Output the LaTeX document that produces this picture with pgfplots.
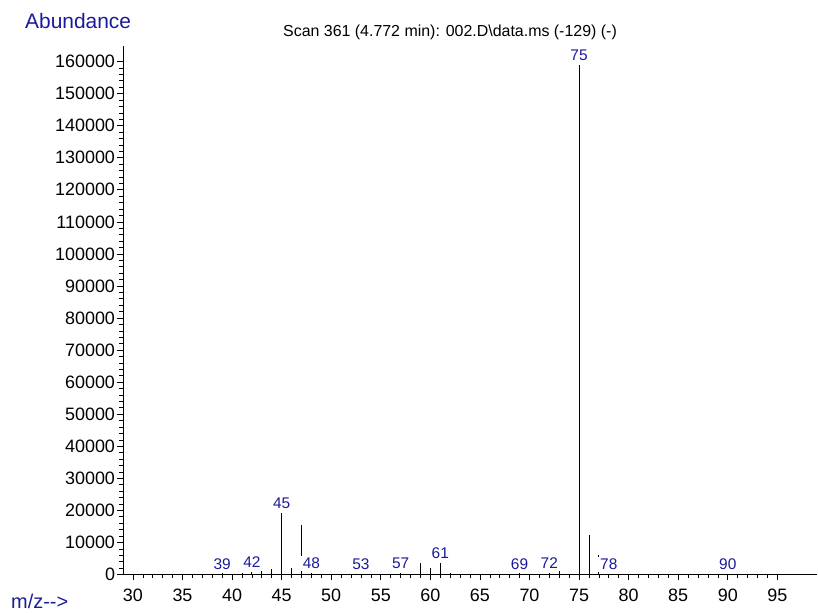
\documentclass[border=0pt]{standalone}
\usepackage{fontspec}
\setmainfont{Liberation Sans}
\usepackage{pgfplots}
\pgfplotsset{compat=1.18}
\definecolor{labblue}{RGB}{26,26,155}
\tikzset{lab/.style={anchor=base, yshift=4bp, fill=white, inner xsep=3bp, inner ysep=2bp,
    font=\fontsize{15.5}{17}\selectfont, text=labblue}}

\begin{document}
\begin{tikzpicture}
\path[use as bounding box] (-123bp,-38.5bp) rectangle (695bp,574.5bp);
\begin{axis}[
  at={(0,0)}, anchor=south west,
  scale only axis, width=694bp, height=528bp,
  xmin=29, xmax=99, ymin=0, ymax=164700,
  axis lines=left, axis line style={-, black, line width=0.7bp},
  xtick={30,35,...,95}, ytick={0,10000,...,160000},
  minor x tick num=4, minor y tick num=4,
  tick align=outside, tick style={black, line width=0.6bp},
  major tick length=6bp, minor tick length=3.5bp,
  ticklabel style={font=\fontsize{18}{20}\selectfont},
  xticklabel style={yshift=-5bp},
  yticklabel style={xshift=1.5bp},
  /pgf/number format/assume math mode=true,
  /pgf/number format/fixed,
  /pgf/number format/precision=0,
  /pgf/number format/1000 sep={},
  scaled y ticks=false,
  clip=false,
]
% peak list: m/z, abundance
\addplot[ycomb, black, line width=0.8bp, mark=none] coordinates {
  (39,400) (41,600) (42,900) (43,1100) (44,1600) (45,19200) (46,2000)
  (47,15400) (48,600) (53,300) (57,500) (58,300) (59,3500) (60,1900)
  (61,3600) (62,500) (69,400) (72,500) (73,1400) (74,300) (75,159000)
  (76,12300) (77,6100) (78,300) (90,200)
};
\node[lab] at (axis cs:39,400) {39};
\node[lab] at (axis cs:42,900) {42};
\node[lab] at (axis cs:45,19200) {45};
\node[lab] at (axis cs:48,600) {48};
\node[lab] at (axis cs:53,300) {53};
\node[lab] at (axis cs:57,500) {57};
\node[lab] at (axis cs:61,3600) {61};
\node[lab] at (axis cs:69,400) {69};
\node[lab] at (axis cs:72,500) {72};
\node[lab] at (axis cs:75,159000) {75};
\node[lab] at (axis cs:78,300) {78};
\node[lab] at (axis cs:90,200) {90};
\end{axis}
\node[anchor=base, inner sep=0, font=\fontsize{16}{18}\selectfont] at (327bp,537.5bp)
  {Scan 361 (4.772 min): 002.D\textbackslash data.ms (-129) (-)};
\node[anchor=base west, inner sep=0, font=\fontsize{21}{24}\selectfont, text=labblue]
  at (-98bp,546.2bp) {Abundance};
\node[anchor=base west, inner sep=0, font=\fontsize{20}{24}\selectfont, text=labblue]
  at (-112bp,-33.5bp) {m/z-{}-{}>};
\end{tikzpicture}
\end{document}
